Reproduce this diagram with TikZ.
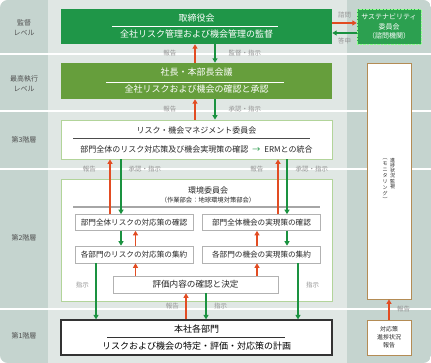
\documentclass[tikz,border=0pt]{standalone}
\usepackage{fontspec}
\setmainfont{Noto Sans CJK JP}
\usepackage{tikz}
\usetikzlibrary{arrows.meta, positioning}
\definecolor{bgLight}{RGB}{224,231,228}
\definecolor{bgDark}{RGB}{197,212,207}
\definecolor{greenBoard}{RGB}{31,150,72}
\definecolor{greenSusta}{RGB}{44,160,80}
\definecolor{greenExec}{RGB}{102,158,60}
\definecolor{greenLine}{RGB}{178,212,154}
\definecolor{redArrow}{RGB}{226,76,34}
\definecolor{greenArrow}{RGB}{26,146,64}
\definecolor{tanBorder}{RGB}{180,140,85}
\definecolor{labelGray}{RGB}{150,150,150}
\definecolor{textGray}{RGB}{80,80,80}

\begin{document}
\begin{tikzpicture}[
    x=1pt, y=-1pt,
    levellabel/.style={align=center, font=\fontsize{7}{10}\selectfont, text=textGray},
    boardbox/.style={fill=greenBoard, text=white, minimum width=271pt, minimum height=35pt, align=center, inner sep=0pt, font=\fontsize{9}{16}\selectfont},
    execbox/.style={fill=greenExec, text=white, minimum width=271pt, minimum height=36pt, align=center, inner sep=0pt, font=\fontsize{9}{17}\selectfont},
    commbox/.style={draw=greenLine, fill=white, line width=0.8pt, minimum width=271pt, align=center, inner sep=0pt, text=black!85},
    subbox/.style={draw=gray!60, fill=white, line width=0.6pt, minimum width=118pt, minimum height=16pt, inner sep=0pt, text=black!85, font=\fontsize{7.6}{9}\selectfont},
    tanbox/.style={draw=tanBorder, fill=white, line width=0.8pt, minimum width=44pt, inner sep=0pt, align=center, text=black!85},
    vtext/.style={align=center, inner sep=0pt, text=black!85, anchor=north},
    redarrow/.style={draw=redArrow, line width=1.3pt, -{Triangle[length=4.5pt, width=5pt]}},
    greenarrow/.style={draw=greenArrow, line width=1.3pt, -{Triangle[length=4.5pt, width=5pt]}},
    flowlabel/.style={font=\fontsize{6.5}{7}\selectfont, text=labelGray, inner sep=0pt}
]
    \useasboundingbox (0,0) rectangle (431,363);

    % Background
    \begin{scope}
        \clip[rounded corners=8pt] (0,0) rectangle (431,363);
        \fill[bgLight] (0,0) rectangle (431,363);
        \fill[bgDark] (0,0) rectangle (48,363);
        \fill[bgDark] (347,0) rectangle (431,363);
        \foreach \y in {54,111,169,309}
            \draw[white, line width=2pt] (0,\y) -- (431,\y);
    \end{scope}

    % Levels
    \node[levellabel] (lvSuper) at (24,28) {監督\\レベル};
    \node[levellabel] (lvExec) at (24,84) {最高執行\\レベル};
    \node[levellabel] (lvThird) at (24,140) {第3階層};
    \node[levellabel] (lvSecond) at (24,238) {第2階層};
    \node[levellabel] (lvFirst) at (24,336) {第1階層};

    % Bodies
    \node[boardbox] (board) at (196.5,26.5) {取締役会\\全社リスク管理および機会管理の監督};
    \draw[white, line width=0.6pt] ([xshift=-84.5pt,yshift=0.5pt]board.center) -- ([xshift=81.5pt,yshift=0.5pt]board.center);

    \node[draw=green!45!white, densely dotted, fill=greenSusta, text=white, minimum width=64pt, minimum height=35pt, align=center, inner sep=0pt, font=\fontsize{7}{9.5}\selectfont] (susta) at (389,26.5) {サステナビリティ\\委員会\\（諮問機関）};

    \node[execbox] (shacho) at (196.5,81) {社長・本部長会議\\全社リスクおよび機会の確認と承認};
    \draw[white, line width=0.6pt] ([xshift=-90.5pt,yshift=-1pt]shacho.center) -- ([xshift=87.5pt,yshift=-1pt]shacho.center);

    \node[commbox, minimum height=39pt, font=\fontsize{8}{19}\selectfont] (rmc) at (196.5,139.5) {リスク・機会マネジメント委員会\\部門全体のリスク対応策及び機会実現策の確認\hspace{4pt}{\color{greenArrow}→}\hspace{4pt}ERMとの統合};
    \draw[black!70, line width=0.7pt] ([xshift=-123.5pt,yshift=1.5pt]rmc.center) -- ([xshift=113.5pt,yshift=1.5pt]rmc.center);

    \node[commbox, minimum height=122pt] (envbox) at (196.5,240) {};
    \node[inner sep=0pt, align=center, text=black!85, font=\fontsize{8}{9}\selectfont] (envtitle) at (208,194.5) {環境委員会\\{\fontsize{6.3}{9}\selectfont （作業部会：地球環境対策部会）}};
    \draw[gray!70, line width=1.5pt] ([xshift=-123.5pt,yshift=33pt]envbox.center) -- ([xshift=123.5pt,yshift=33pt]envbox.center);

    \node[subbox] (rchk) at (134,222.5) {部門全体リスクの対応策の確認};
    \node[subbox] (ochk) at (261.5,222.5) {部門全体機会の実現策の確認};
    \node[subbox, minimum height=17pt] (ragg) at (134,254.5) {各部門のリスクの対応策の集約};
    \node[subbox, minimum height=17pt] (oagg) at (261.5,254.5) {各部門の機会の実現策の集約};
    \node[subbox, minimum width=165pt, minimum height=17pt, font=\fontsize{8.6}{10}\selectfont] (eval) at (195.5,284.5) {評価内容の確認と決定};

    \node[draw=black!80, line width=1.2pt, fill=white, minimum width=271pt, minimum height=35pt, align=center, inner sep=0pt, font=\fontsize{9}{17}\selectfont] (honsha) at (196.5,337.5) {本社各部門\\リスクおよび機会の特定・評価・対応策の計画};
    \draw[black!80, line width=0.6pt] ([xshift=-89.5pt,yshift=0.5pt]honsha.center) -- ([xshift=88.5pt,yshift=0.5pt]honsha.center);

    % Monitoring
    \node[tanbox, minimum height=236pt] (monitor) at (389,181) {};
    \node[vtext, font=\fontsize{5}{5.2}\selectfont] (monA) at (392.5,158) {進\\捗\\状\\況\\監\\視};
    \node[vtext, font=\fontsize{5}{6}\selectfont] (monB) at (385,158) {︵\\モ\\ニ\\タ\\リ\\ン\\グ\\︶};
    \node[tanbox, minimum height=35pt, font=\fontsize{6}{8}\selectfont] (progress) at (389,337.5) {対応策\\進捗状況\\報告};

    % Arrows
    \draw[redarrow] ([yshift=3.5pt]board.east) -- node[flowlabel, above=4.5pt] {諮問} ([yshift=3.5pt]susta.west);
    \draw[greenarrow] ([yshift=-6.5pt]susta.west) -- node[flowlabel, below=4.5pt] {答申} ([yshift=-6.5pt]board.east);

    \draw[redarrow] ([xshift=-1.5pt]shacho.north) -- node[flowlabel, left=18pt] {報告} ([xshift=-1.5pt]board.south);
    \draw[greenarrow] ([xshift=18.5pt]board.south) -- node[flowlabel, right=13pt] {監督・指示} ([xshift=18.5pt]shacho.north);

    \draw[redarrow] ([xshift=-1.5pt]rmc.north) -- node[flowlabel, left=18pt] {報告} ([xshift=-1.5pt]shacho.south);
    \draw[greenarrow] ([xshift=18.5pt]shacho.south) -- node[flowlabel, right=13pt] {承認・指示} ([xshift=18.5pt]rmc.north);

    \draw[redarrow] ([xshift=-24pt]rchk.north) -- node[flowlabel, pos=.82, left=13.5pt] {報告} ([xshift=-24pt]rchk.north |- rmc.south);
    \draw[greenarrow] ([xshift=-13pt]rchk.north |- rmc.south) -- node[flowlabel, pos=.18, right=7pt] {承認・指示} ([xshift=-13pt]rchk.north);
    \draw[redarrow] ([xshift=16.5pt]ochk.north) -- node[flowlabel, pos=.82, left=14pt] {報告} ([xshift=16.5pt]ochk.north |- rmc.south);
    \draw[greenarrow] ([xshift=25.5pt]ochk.north |- rmc.south) -- node[flowlabel, pos=.18, right=8pt] {承認・指示} ([xshift=25.5pt]ochk.north);

    \draw[greenarrow] ([xshift=-13pt]rchk.south) -- ([xshift=-13pt]ragg.north);
    \draw[redarrow] ([xshift=1.5pt]ragg.north) -- ([xshift=1.5pt]rchk.south);
    \draw[redarrow] ([xshift=-4.5pt]oagg.north) -- ([xshift=-4.5pt]ochk.south);
    \draw[greenarrow] ([xshift=25.5pt]ochk.south) -- ([xshift=25.5pt]oagg.north);

    \draw[redarrow] ([xshift=1.5pt]ragg.south |- eval.north) -- ([xshift=1.5pt]ragg.south);
    \draw[redarrow] ([xshift=-4.5pt]oagg.south |- eval.north) -- ([xshift=-4.5pt]oagg.south);

    \draw[greenarrow] ([xshift=-38pt]ragg.south) -- node[flowlabel, pos=.39, left=6.5pt] {指示} ([xshift=-38pt]ragg.south |- honsha.north);
    \draw[greenarrow] ([xshift=36.5pt]oagg.south) -- node[flowlabel, pos=.39, right=7.5pt] {指示} ([xshift=36.5pt]oagg.south |- honsha.north);
    \draw[redarrow] ([xshift=-9.5pt]eval.south |- honsha.north) -- node[flowlabel, left=6.5pt] {報告} ([xshift=-9.5pt]eval.south);
    \draw[greenarrow] ([xshift=10.5pt]eval.south) -- node[flowlabel, right=7.5pt] {指示} ([xshift=10.5pt]eval.south |- honsha.north);

    \draw[redarrow] (progress.north) -- node[flowlabel, right=7.5pt] {報告} (monitor.south);
\end{tikzpicture}
\end{document}
